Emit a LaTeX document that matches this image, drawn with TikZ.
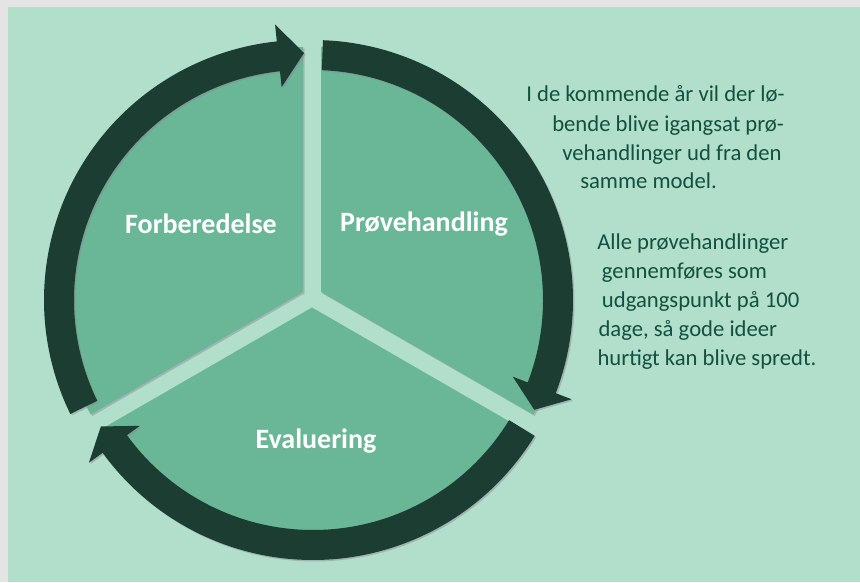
\documentclass[tikz,border=0pt]{standalone}
\usepackage{fontspec}
\setmainfont{Carlito}
\definecolor{bgmint}{HTML}{B1DFCB}
\definecolor{bggray}{HTML}{E4E4E4}
\definecolor{piegreen}{HTML}{6AB797}
\definecolor{arrowdark}{HTML}{1B3D32}
\definecolor{textgreen}{HTML}{13503F}
\definecolor{shadowc}{HTML}{8E8496}
\newcommand\ringarrow[5]{%
  \fill[#1,shift={#2}] (#3:260) arc[start angle=#3, end angle=#4, radius=195pt]
    -- (#4:277) -- (#5:247) -- (#4:214) -- (#4:230)
    arc[start angle=#4, end angle=#3, radius=172.5pt] -- cycle;}
\newcommand\pieslice[4]{%
  \fill[#1,shift={#2}] (0,0) -- (#3:245) arc[start angle=#3, end angle=#4, radius=183.75pt] -- cycle;}
\tikzset{
  pie/.style={fill=piegreen},
  arr/.style={fill=arrowdark},
  shad/.style={fill=shadowc, opacity=0.45},
  lbl/.style={text=white, inner sep=0, font=\bfseries\fontsize{21}{25}\selectfont},
  body/.style={text=textgreen, anchor=base west, inner sep=0, font=\fontsize{17}{20}\selectfont}
}
\begin{document}
\begin{tikzpicture}[x=0.75pt,y=0.75pt]
\useasboundingbox (0,0) rectangle (860,582);
\fill[bggray] (0,0) rectangle (860,582);
\fill[bgmint] (8,0) rectangle (860,575);
% pie slices
\pieslice{shad}{(304.5,288.5)}{90}{210}
\pieslice{shad}{(322.5,288.5)}{-30}{90}
\pieslice{shad}{(313.5,273)}{210}{330}
\pieslice{pie}{(303,290)}{90}{210}
\pieslice{pie}{(321,290)}{-30}{90}
\pieslice{pie}{(312,274.5)}{210}{330}
% arrows
\ringarrow{shad}{(305.5,280.5)}{206}{96}{90}
\ringarrow{shad}{(314.5,280.5)}{87.8}{-21}{-26.4}
\ringarrow{shad}{(314.5,280.5)}{328.5}{216}{210.8}
\ringarrow{arr}{(304,282)}{206}{96}{90}
\ringarrow{arr}{(313,282)}{87.8}{-21}{-26.4}
\ringarrow{arr}{(313,282)}{328.5}{216}{210.8}
% labels
\node[lbl] (forb) at (201,358) {Forberedelse};
\node[lbl] (prov) at (424,358) {Prøvehandling};
\node[lbl] (eval) at (316,141) {Evaluering};
% text
\node[body] (t1) at (526,480) {I de kommende år vil der lø-};
\node[body] (t2) at (552,450.5) {bende blive igangsat prø-};
\node[body] (t3) at (562,421.5) {vehandlinger ud fra den};
\node[body] (t4) at (580,393) {samme model.};
\node[body] (t5) at (597,332.7) {Alle prøvehandlinger};
\node[body] (t6) at (601.7,303.7) {gennemføres som};
\node[body] (t7) at (601.7,274.7) {udgangspunkt på 100};
\node[body] (t8) at (598.3,245.3) {dage, så gode ideer};
\node[body] (t9) at (597.3,216.3) {hurtigt kan blive spredt.};
\end{tikzpicture}
\end{document}
